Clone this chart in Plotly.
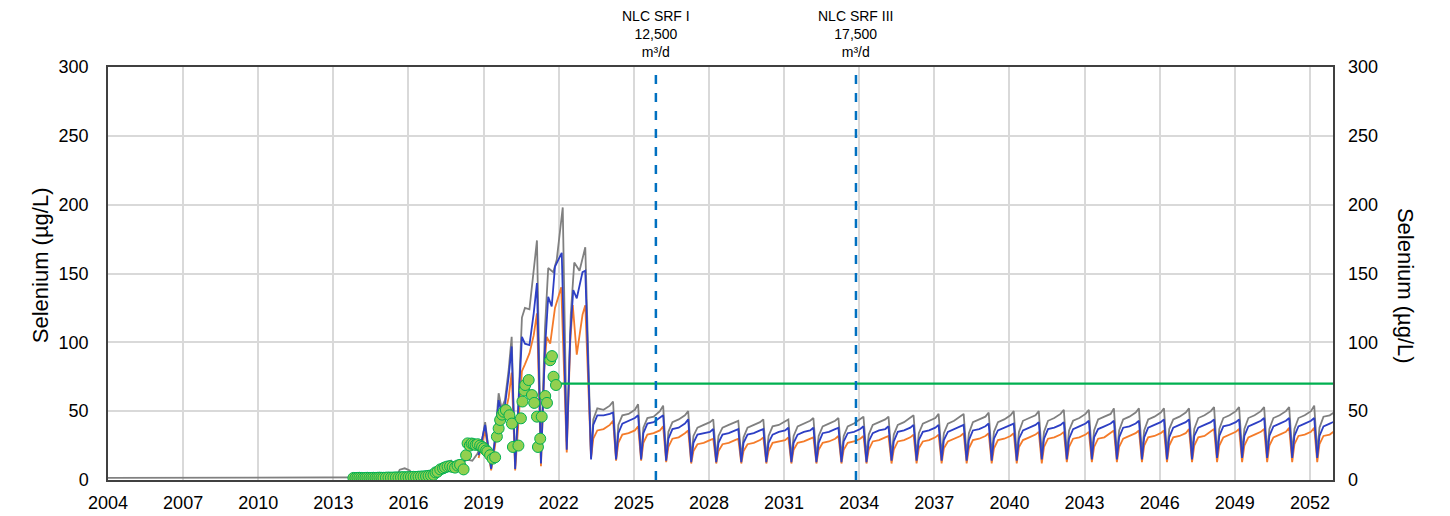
import plotly.graph_objects as go

# --- historic modelled series (decimal year, µg/L) ---
HIST_GRAY_X = [2004.0, 2013.8, 2015.5, 2015.65, 2015.85, 2016.05, 2016.2, 2016.9, 2017.3, 2017.55,
               2017.7, 2017.85, 2018.1, 2018.3, 2018.55, 2018.75, 2018.92, 2019.06, 2019.18, 2019.3,
               2019.45, 2019.6, 2019.72, 2019.85, 2020.0, 2020.12, 2020.26, 2020.4, 2020.53, 2020.65,
               2020.83, 2021.0, 2021.13, 2021.29, 2021.45, 2021.58, 2021.78, 2021.92, 2022.16, 2022.32,
               2022.48, 2022.62, 2022.74, 2022.83, 2023.06]
HIST_GRAY_Y = [1.5, 1.5, 2.0, 7.5, 8.5, 7.0, 3.0, 3.0, 6, 13,
               14, 8, 9, 15, 14, 19, 27, 42, 25, 8.5,
               30, 63, 52, 58, 80, 104, 10, 60, 118, 125,
               124, 155, 174, 17, 110, 154, 151, 160, 198, 28,
               120, 158, 155, 152, 169]

HIST_BLUE_X = [2018.8, 2019.06, 2019.18, 2019.3, 2019.45, 2019.6, 2019.72, 2019.85, 2020.0, 2020.12,
               2020.26, 2020.4, 2020.53, 2020.65, 2020.83, 2021.0, 2021.13, 2021.29, 2021.45, 2021.58,
               2021.72, 2021.85, 2022.12, 2022.32, 2022.46, 2022.58, 2022.72, 2022.95, 2023.06]
HIST_BLUE_Y = [18, 40, 24, 8, 28, 58, 48, 54, 75, 97,
               8, 55, 104, 99, 98, 121, 143, 12, 95, 133,
               126, 155, 165, 22, 105, 138, 132, 151, 152]

HIST_ORANGE_X = [2018.8, 2019.06, 2019.18, 2019.3, 2019.45, 2019.6, 2019.72, 2019.85, 2020.0, 2020.12,
                 2020.26, 2020.4, 2020.53, 2020.65, 2020.83, 2021.0, 2021.13, 2021.29, 2021.42, 2021.52,
                 2021.66, 2021.85, 2022.1, 2022.32, 2022.46, 2022.56, 2022.72, 2022.95, 2023.06]
HIST_ORANGE_Y = [16, 36, 22, 7, 24, 45, 40, 47, 60, 78,
                 7, 45, 79, 84, 92, 105, 121, 10, 80, 104,
                 99, 125, 140, 20, 100, 127, 91, 120, 127]

# --- projected seasonal cycles: one row per year, values at Apr, May, Jul, Oct, Jan, Mar ---
FUT_YEARS = list(range(2023, 2053))
FUT_OFFSETS = [0.29, 0.38, 0.54, 0.79, 1.04, 1.17]

FUT_GRAY = [
    [17, 44, 52, 51, 54, 57], [16, 40, 47, 48, 51, 55], [16, 38, 45, 46, 50, 54],
    [16, 35, 42, 44, 47, 50], [16, 32, 38, 40, 42, 44], [16, 32, 38, 40, 42, 43],
    [16, 31, 38, 40, 42, 44], [16, 32, 39, 40, 43, 44], [16, 32, 39, 41, 43, 45],
    [16, 32, 39, 41, 43, 45], [17, 32, 39, 41, 44, 46], [17, 33, 40, 42, 44, 46],
    [17, 33, 40, 42, 45, 47], [17, 34, 41, 43, 45, 48], [18, 34, 41, 43, 46, 48],
    [18, 34, 42, 44, 46, 49], [18, 35, 42, 44, 47, 50], [18, 35, 43, 45, 47, 50],
    [19, 35, 43, 45, 48, 51], [19, 36, 43, 45, 48, 51], [19, 36, 44, 46, 48, 52],
    [19, 36, 44, 46, 49, 52], [19, 36, 44, 46, 49, 52], [19, 37, 44, 46, 49, 52],
    [19, 37, 45, 47, 50, 53], [19, 37, 45, 47, 50, 53], [20, 37, 45, 47, 50, 53],
    [20, 37, 45, 47, 50, 53], [20, 37, 45, 47, 50, 54], [20, 38, 46, 47, 50, 54],
]
FUT_BLUE = [
    [15, 40, 47, 47, 48, 49], [15, 34, 41, 43, 45, 47], [15, 34, 41, 42, 45, 47],
    [14, 30, 37, 38, 41, 44], [13, 27, 33, 34, 35, 37], [13, 27, 33, 34, 36, 37],
    [13, 27, 33, 34, 36, 37], [13, 27, 33, 35, 36, 38], [13, 27, 33, 35, 36, 38],
    [13, 27, 34, 35, 37, 38], [13, 28, 34, 35, 37, 39], [13, 28, 34, 36, 37, 39],
    [14, 28, 35, 36, 38, 40], [14, 29, 35, 36, 38, 40], [14, 29, 35, 37, 39, 40],
    [14, 29, 36, 37, 39, 41], [14, 30, 36, 38, 40, 41], [14, 30, 36, 38, 40, 42],
    [15, 30, 37, 38, 40, 42], [15, 30, 37, 39, 41, 43], [15, 31, 37, 39, 41, 43],
    [15, 31, 38, 39, 41, 43], [15, 31, 38, 40, 42, 44], [15, 31, 38, 40, 42, 44],
    [15, 32, 38, 40, 42, 44], [16, 32, 39, 40, 42, 44], [16, 32, 39, 41, 43, 45],
    [16, 32, 39, 41, 43, 45], [16, 32, 39, 41, 43, 45], [16, 32, 39, 41, 43, 45],
]
FUT_ORANGE = [
    [16, 30, 36, 37, 40, 43], [14, 27, 33, 34, 36, 39], [14, 27, 33, 34, 36, 39],
    [13, 24, 30, 31, 34, 36], [12, 21, 26, 27, 29, 30], [12, 21, 26, 27, 29, 30],
    [12, 21, 26, 27, 29, 31], [12, 21, 27, 28, 29, 31], [12, 22, 27, 28, 30, 31],
    [12, 22, 27, 28, 30, 32], [12, 22, 27, 28, 30, 32], [12, 22, 28, 29, 31, 32],
    [12, 22, 28, 29, 31, 33], [12, 23, 28, 29, 31, 33], [12, 23, 28, 30, 32, 34],
    [12, 23, 29, 30, 32, 34], [12, 23, 29, 30, 32, 34], [12, 24, 29, 31, 33, 35],
    [12, 24, 30, 31, 33, 35], [13, 24, 30, 31, 33, 35], [13, 24, 30, 31, 34, 36],
    [13, 24, 30, 32, 34, 36], [13, 25, 31, 32, 34, 36], [13, 25, 31, 32, 34, 37],
    [13, 25, 31, 32, 35, 37], [13, 25, 31, 33, 35, 37], [13, 25, 31, 33, 35, 37],
    [13, 25, 31, 33, 35, 38], [13, 26, 32, 33, 35, 38], [13, 26, 32, 33, 36, 38],
]

# --- observed selenium ---
OBS_X = [2013.80, 2013.88, 2013.96, 2014.04, 2014.12, 2014.20, 2014.28, 2014.36, 2014.44, 2014.52,
         2014.60, 2014.68, 2014.76, 2014.84, 2014.92, 2015.00, 2015.10, 2015.20, 2015.30, 2015.40,
         2015.50, 2015.60, 2015.70, 2015.80, 2015.90, 2016.00, 2016.10, 2016.20, 2016.30, 2016.40,
         2016.50, 2016.60, 2016.70, 2016.80, 2016.90, 2017.00, 2017.08, 2017.16, 2017.27, 2017.38,
         2017.46, 2017.56, 2017.66, 2017.76, 2017.86, 2017.96, 2018.06, 2018.20, 2018.30, 2018.36,
         2018.45, 2018.52, 2018.60, 2018.68, 2018.76, 2018.86, 2018.94, 2019.02, 2019.10, 2019.15,
         2019.26, 2019.36, 2019.46, 2019.53, 2019.60, 2019.66, 2019.74, 2019.80, 2019.89, 2020.03,
         2020.13, 2020.17, 2020.39, 2020.49, 2020.55, 2020.63, 2020.66, 2020.80, 2020.93, 2021.02,
         2021.13, 2021.17, 2021.26, 2021.32, 2021.46, 2021.53, 2021.66, 2021.73, 2021.79, 2021.89]
OBS_Y = [1.5, 1.4, 1.5, 1.6, 1.5, 1.4, 1.5, 1.6, 1.5, 1.5,
         1.6, 1.5, 1.6, 1.7, 1.6, 1.6, 1.7, 1.8, 1.7, 1.8,
         1.9, 1.8, 2.0, 2.1, 2.0, 2.1, 2.2, 2.3, 2.2, 2.4,
         2.5, 2.6, 2.8, 3.0, 3.3, 3.8, 5.5, 6.0, 7.7, 8.5,
         9.2, 9.8, 10.0, 9.5, 9.0, 10.5, 11.0, 7.7, 18.0, 26.6,
         25.0, 26.5, 26.0, 25.5, 26.0, 25.0, 24.0, 23.0, 21.5, 20.6,
         18.0, 15.5, 16.5, 31.5, 37.5, 43.6, 47.5, 49.6, 50.8, 47.0,
         41.0, 24.0, 25.0, 44.8, 57.0, 65.0, 69.0, 72.6, 61.7, 56.0,
         46.0, 24.0, 30.0, 46.0, 61.0, 56.0, 87.0, 90.0, 75.0, 69.0]

GUIDE_VALUE = 70
GUIDE_START = 2022.05
X_END = 2052.92
EVENTS = [(2025.88, "NLC SRF I<br>12,500<br>m³/d"), (2033.87, "NLC SRF III<br>17,500<br>m³/d")]

FONT = "Liberation Sans, Arial, sans-serif"


def cycles(rows):
    xs, ys = [], []
    for yr, row in zip(FUT_YEARS, rows):
        for off, v in zip(FUT_OFFSETS, row):
            xs.append(yr + off)
            ys.append(v)
    return xs, ys


gx, gy = cycles(FUT_GRAY)
bx, by = cycles(FUT_BLUE)
ox, oy = cycles(FUT_ORANGE)

fig = go.Figure()

fig.add_trace(go.Scatter(x=HIST_GRAY_X + gx, y=HIST_GRAY_Y + gy, mode="lines",
                         line=dict(color="#808080", width=1.8), showlegend=False))
fig.add_trace(go.Scatter(x=HIST_ORANGE_X + ox, y=HIST_ORANGE_Y + oy, mode="lines",
                         line=dict(color="#F47B2A", width=1.8), showlegend=False))
fig.add_trace(go.Scatter(x=HIST_BLUE_X + bx, y=HIST_BLUE_Y + by, mode="lines",
                         line=dict(color="#2D3FC4", width=1.8), showlegend=False))
fig.add_trace(go.Scatter(x=[GUIDE_START, X_END + 1], y=[GUIDE_VALUE, GUIDE_VALUE], mode="lines",
                         line=dict(color="#00B050", width=2.2), showlegend=False))
fig.add_trace(go.Scatter(x=OBS_X, y=OBS_Y, mode="markers",
                         marker=dict(size=11, color="#92D050", line=dict(color="#00B050", width=1)),
                         showlegend=False))
# keeps the right-hand axis drawn
fig.add_trace(go.Scatter(x=[2004], y=[None], yaxis="y2", showlegend=False, hoverinfo="skip"))

for xv, label in EVENTS:
    fig.add_vline(x=xv, line_dash="dash", line_color="#0070C0", line_width=2.5)
    fig.add_annotation(x=xv, xref="x", y=1, yref="paper", yanchor="bottom", yshift=5,
                       text=label, showarrow=False, font=dict(size=14, color="#000000", family=FONT))

# page body adds an 8px offset, so the figure is 8px smaller than the window
fig.update_layout(
    width=1442, height=508,
    margin=dict(l=100, r=117, t=59, b=36, autoexpand=False),
    plot_bgcolor="white", paper_bgcolor="white",
    font=dict(family=FONT, size=18, color="#000000"),
    xaxis=dict(range=[2004, X_END], tick0=2004, dtick=3, showgrid=True, gridcolor="#D9D9D9",
               gridwidth=1.5, showline=True, linecolor="#404040", linewidth=1.5, mirror=True,
               ticks="", ticklabelstandoff=6, zeroline=False, automargin=False),
    yaxis=dict(range=[0, 300], dtick=50, showgrid=True, gridcolor="#D9D9D9", gridwidth=1.5,
               showline=True, linecolor="#404040", linewidth=1.5, mirror=True,
               ticks="", ticklabelstandoff=14, zeroline=False, automargin=False),
    yaxis2=dict(range=[0, 300], dtick=50, overlaying="y", side="right", showgrid=False,
                ticks="", ticklabelstandoff=14, zeroline=False, showline=False, automargin=False),
)

fig.add_annotation(x=(40 - 108) / 1225, xref="paper", xanchor="center", y=0.52, yref="paper",
                   yanchor="middle", text="Selenium (µg/L)", textangle=-90, showarrow=False,
                   font=dict(size=22, family=FONT))
fig.add_annotation(x=(1405 - 108) / 1225, xref="paper", xanchor="center", y=0.47, yref="paper",
                   yanchor="middle", text="Selenium (µg/L)", textangle=90, showarrow=False,
                   font=dict(size=22, family=FONT))

fig.write_html("out.html")
